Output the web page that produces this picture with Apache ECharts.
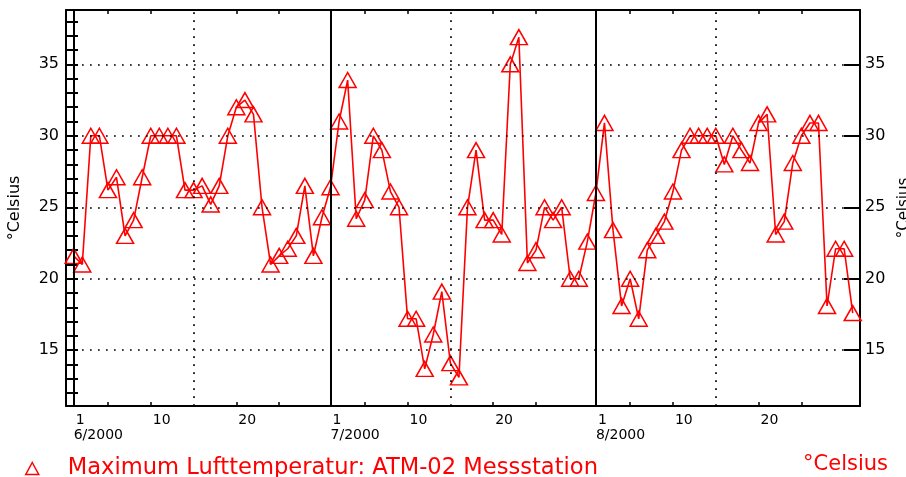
<!DOCTYPE html>
<html>
<head>
<meta charset="utf-8">
<script src="https://cdn.jsdelivr.net/npm/echarts@6/dist/echarts.min.js"></script>
<style>
html,body{margin:0;padding:0;background:#fff;}
#c{width:906px;height:477px;}
</style>
</head>
<body>
<div id="c"></div>
<script>
// Daily maximum air temperature, 1 June – 31 August 2000 (index 0 = 1 June)
var tempJune = [21.6,21.0,30.0,30.0,26.2,27.1,23.0,24.1,27.1,30.0,
                30.0,30.0,30.0,26.2,26.2,26.5,25.2,26.5,30.0,32.0,
                32.5,31.5,25.0,21.0,21.6,22.1,23.0,26.5,21.6,24.3];
var tempJuly = [26.4,31.0,33.9,24.2,25.5,30.0,29.0,26.1,25.0,17.2,
                17.2,13.7,16.1,19.1,14.1,13.1,25.0,29.0,24.1,24.1,
                23.1,35.0,36.9,21.1,22.0,25.0,24.1,25.0,20.0,20.0,
                22.6];
var tempAug  = [26.0,30.9,23.4,18.1,20.0,17.2,22.0,23.0,24.0,26.1,
                29.0,30.0,30.0,30.0,30.0,28.0,30.0,29.0,28.1,30.9,
                31.5,23.1,24.0,28.1,30.0,30.9,30.9,18.1,22.1,22.1,
                17.6];
var seriesName = 'Maximum Lufttemperatur: ATM-02 Messstation';
var unitText = '°Celsius';

// axis positions (day index from 1 June)
var monthStarts = [0, 30, 61];
var monthNames = ['6/2000', '7/2000', '8/2000'];
var midMonths = [14, 44, 75];
var minorDayTicks = [4, 9, 19, 24, 34, 39, 49, 54, 65, 70, 80, 85];
var dayLabelValues = [0, 9, 19, 30, 39, 49, 61, 70, 80];
var dayLabelTexts  = ['1', '10', '20', '1', '10', '20', '1', '10', '20'];
var yLabelValues = [15, 20, 25, 30, 35];
var yMinorTicks = [12,13,14,15,16,17,18,19,20,21,22,23,24,25,26,27,28,29,30,31,32,33,34,35,36,37,38];

var temps = tempJune.concat(tempJuly, tempAug);
var data = temps.map(function (v, i) { return [i, v]; });

var RED = '#ff0000';
var FONT = 'DejaVu Sans';

var chart = echarts.init(document.getElementById('c'), null, {renderer: 'canvas'});

var markData = [];
monthStarts.forEach(function (d) {
  markData.push({xAxis: d, lineStyle: {color: '#000', width: 2, type: 'solid'}});
});
midMonths.forEach(function (d) {
  markData.push({xAxis: d, lineStyle: {color: '#000', width: 1.7, type: [1.7, 6.3]}});
});
yLabelValues.forEach(function (v) {
  markData.push({yAxis: v, lineStyle: {color: '#000', width: 1.7, type: [1.7, 6.3]}});
});

function xLabel(val) {
  var k = dayLabelValues.indexOf(val);
  if (k < 0) return '';
  var m = monthStarts.indexOf(val);
  if (m >= 0) return '{a|' + dayLabelTexts[k] + '}\n{b|' + monthNames[m] + '}';
  return '{a|' + dayLabelTexts[k] + '}';
}

var option = {
  animation: false,
  backgroundColor: '#fff',
  grid: {left: 66, right: 46, top: 10, bottom: 71, containLabel: false, outerBoundsMode: 'none'},
  legend: {
    data: [seriesName],
    left: 20, top: 452,
    icon: 'triangle',
    itemWidth: 13, itemHeight: 12,
    itemStyle: {color: 'transparent', borderColor: RED, borderWidth: 1.5},
    textStyle: {color: RED, fontFamily: FONT, fontSize: 22.6, padding: [0, 0, 0, 24]}
  },
  graphic: [{
    type: 'text', right: 18, top: 454,
    style: {text: unitText, fill: RED, font: '21px "DejaVu Sans"'}
  }],
  xAxis: [{
    type: 'value', min: -0.9, max: 91.85, position: 'bottom',
    axisLine: {show: true, onZero: false, lineStyle: {color: '#000', width: 2}},
    axisTick: {show: true, inside: true, length: 4, customValues: minorDayTicks, lineStyle: {color: '#000', width: 1.5}},
    axisLabel: {
      show: true, customValues: dayLabelValues, formatter: xLabel, align: 'left', margin: 6,
      rich: {
        a: {fontFamily: FONT, fontSize: 14, color: '#000', lineHeight: 16, padding: [0, 0, 0, 2]},
        b: {fontFamily: FONT, fontSize: 14, color: '#000', lineHeight: 15}
      }
    },
    splitLine: {show: false}
  }, {
    type: 'value', min: -0.9, max: 91.85, position: 'top',
    axisLine: {show: true, onZero: false, lineStyle: {color: '#000', width: 2}},
    axisTick: {show: true, inside: true, length: 4, customValues: minorDayTicks, lineStyle: {color: '#000', width: 1.5}},
    axisLabel: {show: false},
    splitLine: {show: false}
  }],
  yAxis: [{
    type: 'value', min: 11.1, max: 38.8, position: 'left',
    name: unitText, nameLocation: 'middle', nameGap: 43, nameRotate: 90,
    nameTextStyle: {fontFamily: FONT, fontSize: 16, color: '#000'},
    axisLine: {show: true, onZero: false, lineStyle: {color: '#000', width: 2}},
    axisTick: {show: true, inside: true, length: 12, customValues: yMinorTicks, lineStyle: {color: '#000', width: 2}},
    axisLabel: {show: true, customValues: yLabelValues, margin: 7, fontFamily: FONT, fontSize: 16, color: '#000'},
    splitLine: {show: false}
  }, {
    type: 'value', min: 11.1, max: 38.8, position: 'right',
    name: unitText, nameLocation: 'middle', nameGap: 28, nameRotate: 90,
    nameTextStyle: {fontFamily: FONT, fontSize: 15, color: '#000'},
    axisLine: {show: true, onZero: false, lineStyle: {color: '#000', width: 2}},
    axisTick: {show: true, inside: true, length: 16, customValues: yLabelValues, lineStyle: {color: '#000', width: 2}},
    axisLabel: {show: true, customValues: yLabelValues, margin: 5, fontFamily: FONT, fontSize: 16, color: '#000'},
    splitLine: {show: false}
  }, {
    type: 'value', min: 11.1, max: 38.8, position: 'right',
    axisLine: {show: false},
    axisTick: {show: true, inside: true, length: 8, customValues: yMinorTicks, lineStyle: {color: '#000', width: 2}},
    axisLabel: {show: false},
    splitLine: {show: false}
  }],
  series: [{
    name: seriesName,
    type: 'line',
    xAxisIndex: 0, yAxisIndex: 0,
    data: data,
    symbol: 'triangle',
    symbolSize: [17, 15],
    showAllSymbol: true,
    itemStyle: {color: 'transparent', borderColor: RED, borderWidth: 1.5},
    lineStyle: {color: RED, width: 1.6},
    emphasis: {disabled: true},
    z: 3,
    markLine: {
      silent: true, symbol: 'none', animation: false,
      label: {show: false},
      emphasis: {disabled: true},
      data: markData
    }
  }]
};
chart.setOption(option);
</script>
</body>
</html>
